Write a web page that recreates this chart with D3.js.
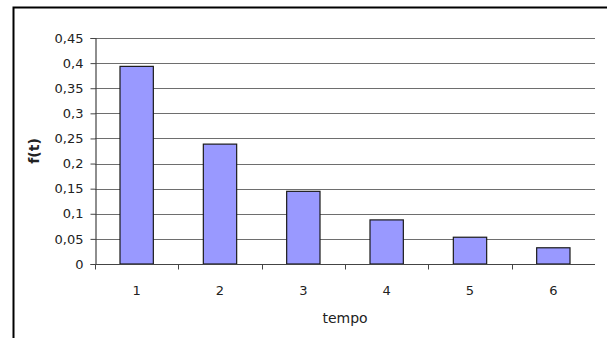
<!DOCTYPE html>
<html>
<head>
<meta charset="utf-8">
<script src="https://cdn.jsdelivr.net/npm/d3@7"></script>
<style>
  html, body { margin: 0; padding: 0; background: #fff; }
  svg { display: block; }
  text { font-family: "DejaVu Sans", Verdana, sans-serif; fill: #222; }
</style>
</head>
<body>
<script>
// Distribution f(t) over discrete time steps
const categories = ["1", "2", "3", "4", "5", "6"];
const values = [0.3935, 0.2387, 0.1447, 0.0878, 0.0533, 0.0323];
const yTicks = [0, 0.05, 0.1, 0.15, 0.2, 0.25, 0.3, 0.35, 0.4, 0.45];
const yTickLabels = ["0", "0,05", "0,1", "0,15", "0,2", "0,25", "0,3", "0,35", "0,4", "0,45"];
const xTitle = "tempo";
const yTitle = "f(t)";

const W = 607, H = 338;
const plot = { left: 95, right: 595, top: 38, bottom: 264 };
const FONT = "'DejaVu Sans', Verdana, sans-serif";

const svg = d3.select("body").append("svg")
  .attr("width", W).attr("height", H);

// chart frame
svg.append("rect")
  .attr("x", 13.5).attr("y", 7.5)
  .attr("width", W + 10).attr("height", H + 10)
  .attr("fill", "#fff").attr("stroke", "#000").attr("stroke-width", 2);

const x = d3.scaleBand()
  .domain(categories)
  .range([plot.left, plot.right])
  .paddingInner(0.6)
  .paddingOuter(0.3);

const y = d3.scaleLinear()
  .domain([0, 0.45])
  .range([plot.bottom, plot.top]);

// horizontal gridlines
svg.append("g")
  .selectAll("line")
  .data(yTicks.filter(d => d > 0))
  .join("line")
  .attr("x1", plot.left).attr("x2", plot.right)
  .attr("y1", d => Math.round(y(d)) + 0.5)
  .attr("y2", d => Math.round(y(d)) + 0.5)
  .attr("stroke", "#6e6e6e").attr("stroke-width", 1.2);

// bars
svg.append("g")
  .selectAll("rect")
  .data(values)
  .join("rect")
  .attr("x", (d, i) => x(categories[i]))
  .attr("y", d => y(d))
  .attr("width", x.bandwidth())
  .attr("height", d => plot.bottom - y(d))
  .attr("fill", "#9999ff")
  .attr("stroke", "#1a1a1a").attr("stroke-width", 1.2);

// y axis
const yAxis = d3.axisLeft(y)
  .tickValues(yTicks)
  .tickFormat((d, i) => yTickLabels[i])
  .tickSize(5)
  .tickPadding(7);
const gy = svg.append("g")
  .attr("transform", `translate(${plot.left + 0.5},0)`)
  .call(yAxis);
gy.select(".domain").attr("stroke", "#444").attr("stroke-width", 1.2);
gy.selectAll(".tick line").attr("stroke", "#444");
gy.selectAll(".tick text")
  .attr("font-size", 13)
  .style("font-family", FONT)
  .attr("fill", "#222");

// x axis with ticks between categories
const xAxis = d3.axisBottom(x).tickSize(0).tickPadding(21);
const gx = svg.append("g")
  .attr("transform", `translate(0,${plot.bottom + 0.5})`)
  .call(xAxis);
gx.select(".domain").attr("d", `M${plot.left},0H${plot.right}`)
  .attr("stroke", "#444").attr("stroke-width", 1.2);
gx.selectAll(".tick text")
  .attr("font-size", 13)
  .style("font-family", FONT)
  .attr("fill", "#222");
gx.append("g")
  .selectAll("line")
  .data(categories)
  .join("line")
  .attr("x1", d => Math.round(x(d) - x.step() * x.paddingInner() / 2) + 0.5)
  .attr("x2", d => Math.round(x(d) - x.step() * x.paddingInner() / 2) + 0.5)
  .attr("y1", 0).attr("y2", 5)
  .attr("stroke", "#444");

// axis titles
svg.append("text")
  .attr("x", (plot.left + plot.right) / 2)
  .attr("y", 323)
  .attr("text-anchor", "middle")
  .attr("font-size", 14)
  .text(xTitle);

svg.append("text")
  .attr("transform", `translate(39,${(plot.top + plot.bottom) / 2}) rotate(-90)`)
  .attr("text-anchor", "middle")
  .attr("font-size", 14)
  .attr("font-weight", "bold")
  .text(yTitle);
</script>
</body>
</html>
